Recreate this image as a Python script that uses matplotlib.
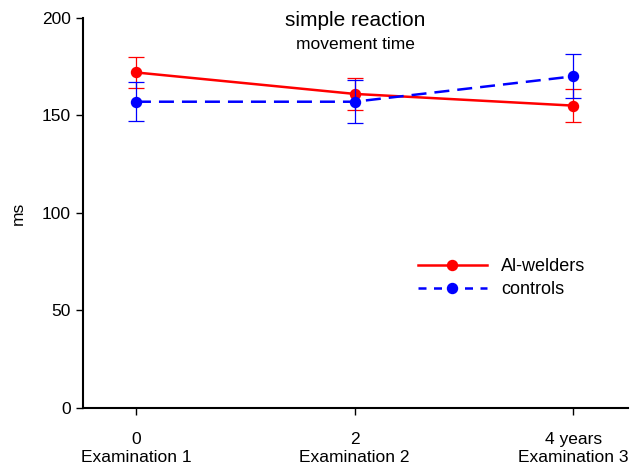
import matplotlib.pyplot as plt
from matplotlib.lines import Line2D

plt.rcParams['font.family'] = ['Liberation Sans', 'DejaVu Sans']

# time of examination (years)
years = [0, 2, 4]
tick_labels = ['0\nExamination 1', '2\nExamination 2', '4 years\nExamination 3']

# mean movement time (ms) and error bars
welders = [172, 161, 155]
welders_err = [8, 8.3, 8.5]
controls = [157, 157, 170]
controls_err = [10, 11, 11.3]

fig = plt.figure(figsize=(6.33, 4.69), dpi=100)
ax = fig.add_axes([0.131, 0.130, 0.861, 0.832])

ax.errorbar(years, welders, yerr=welders_err, color='#ff0000', lw=1.8,
            marker='o', ms=7.2, capsize=6, elinewidth=0.9, capthick=0.9,
            zorder=3)
ax.errorbar(years, controls, yerr=controls_err, color='#0000ff', lw=1.8,
            marker='o', ms=7.2, capsize=6, elinewidth=0.9, capthick=0.9,
            dashes=(6, 3.2), zorder=4)

ax.set_xlim(-0.485, 4.5)
ax.set_ylim(0, 200)
ax.set_yticks([0, 50, 100, 150, 200])
ax.set_xticks(years)
ax.set_xticklabels(tick_labels, linespacing=1.3)
ax.tick_params(labelsize=12.5, width=1, length=5, color='black')
ax.tick_params(axis='x', pad=12)
ax.set_ylabel('ms', fontsize=12.5, labelpad=12)

for s in ['top', 'right']:
    ax.spines[s].set_visible(False)
for s in ['left', 'bottom']:
    ax.spines[s].set_linewidth(1.5)

ax.text(0.5, 1.018, 'simple reaction', transform=ax.transAxes,
        ha='center', va='top', fontsize=15)
ax.text(0.5, 0.95, 'movement time', transform=ax.transAxes,
        ha='center', va='top', fontsize=12.5)

handles = [
    Line2D([], [], color='#ff0000', lw=1.8, marker='o', ms=7.2),
    Line2D([], [], color='#0000ff', lw=1.8, marker='o', ms=7.2, dashes=(3.2, 3)),
]
ax.legend(handles, ['Al-welders', 'controls'], loc='upper left',
          bbox_to_anchor=(0.585, 0.425), frameon=False, fontsize=13,
          handlelength=3.8, handletextpad=0.8, labelspacing=0.3)

fig.savefig('out.png', dpi=100)
